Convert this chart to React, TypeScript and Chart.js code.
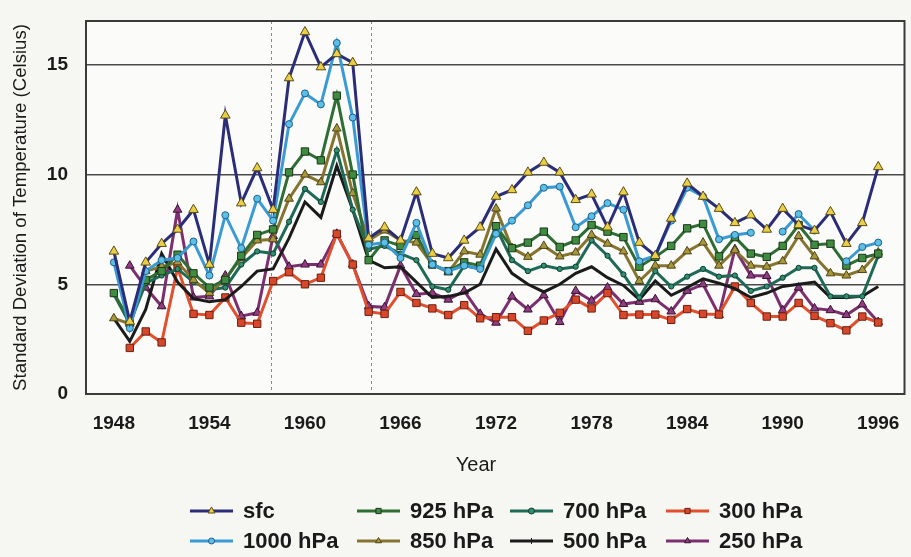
import React, { useEffect, useRef } from 'react';
import { Chart, registerables } from 'chart.js';

Chart.register(...registerables);

// ---------- DATA ----------
const years = [1948, 1949, 1950, 1951, 1952, 1953, 1954, 1955, 1956, 1957, 1958, 1959, 1960, 1961, 1962, 1963, 1964, 1965, 1966, 1967, 1968, 1969, 1970, 1971, 1972, 1973, 1974, 1975, 1976, 1977, 1978, 1979, 1980, 1981, 1982, 1983, 1984, 1985, 1986, 1987, 1988, 1989, 1990, 1991, 1992, 1993, 1994, 1995, 1996];

const sfc = [6.5, 3.3, 6.0, 6.85, 7.5, 8.4, 5.9, 12.7, 8.7, 10.3, 8.4, 14.4, 16.5, 14.9, 15.5, 15.1, 7.1, 7.6, 7.0, 9.2, 6.4, 6.2, 7.0, 7.6, 9.0, 9.3, 10.1, 10.55, 10.1, 8.85, 9.1, 7.6, 9.2, 6.9, 6.3, 8.0, 9.6, 9.0, 8.45, 7.8, 8.15, 7.5, 8.45, 7.7, 7.45, 8.3, 6.85, 7.8, 10.35];
const hPa1000 = [6.0, 3.0, 5.6, 6.1, 6.2, 6.95, 5.4, 8.15, 6.65, 8.9, 7.9, 12.3, 13.7, 13.2, 16.0, 12.6, 6.8, 6.9, 6.2, 7.8, 5.9, 5.6, 5.85, 5.7, 7.3, 7.9, 8.6, 9.4, 9.45, 7.6, 8.1, 8.7, 8.4, 6.05, 6.3, 7.9, 9.4, 9.0, 7.05, 7.25, 7.35, null, 7.4, 8.2, 7.45, null, 6.05, 6.7, 6.9];
const hPa925 = [4.6, 3.3, 5.2, 5.6, 6.35, 5.5, 4.85, 5.2, 6.3, 7.25, 7.5, 10.1, 11.05, 10.65, 13.6, 10.0, 6.1, 7.0, 6.75, 7.25, 5.9, 5.6, 6.0, 5.85, 7.65, 6.65, 6.9, 7.4, 6.7, 7.0, 7.7, 7.4, 7.15, 5.8, 6.25, 6.75, 7.55, 7.75, 6.27, 7.15, 6.4, 6.25, 6.75, 7.7, 6.8, 6.85, 5.85, 6.2, 6.4];
const hPa850 = [3.45, 3.2, 5.6, 5.8, 6.0, 5.2, 4.6, 5.25, 6.2, 7.0, 7.05, 8.9, 10.0, 9.65, 12.1, 9.15, 7.0, 7.45, 7.0, 6.9, 5.9, 5.55, 6.5, 6.35, 8.45, 6.65, 6.25, 6.75, 6.27, 6.45, 7.25, 6.85, 6.5, 5.15, 5.85, 5.85, 6.5, 6.9, 5.85, 6.55, 5.85, 5.8, 6.05, 7.2, 6.27, 5.5, 5.4, 5.65, 6.45];
const hPa700 = [4.55, 3.2, 5.05, 5.4, 5.7, 5.1, 4.75, 4.85, 5.9, 6.5, 6.4, 7.85, 9.35, 8.75, 11.1, 8.4, 6.6, 6.75, 6.4, 6.1, 4.9, 4.75, 5.85, 5.7, 7.6, 6.1, 5.6, 5.85, 5.7, 5.8, 7.0, 6.3, 5.45, 4.4, 5.6, 4.9, 5.35, 5.7, 5.35, 5.4, 4.7, 4.9, 5.3, 5.75, 5.75, 4.45, 4.45, 4.45, 6.3];
const hPa500 = [3.45, 2.4, 3.85, 6.4, 5.1, 4.35, 4.2, 4.3, 4.9, 5.6, 5.7, 7.1, 8.75, 8.05, 10.4, 8.4, 6.1, 5.75, 5.8, 5.1, 4.4, 4.45, 4.6, 5.0, 6.6, 5.5, 5.0, 4.65, 5.0, 5.5, 5.8, 5.3, 4.95, 4.3, 5.15, 4.5, 4.85, 5.25, 5.05, 4.8, 4.4, 4.6, 4.9, 5.0, 5.1, 4.4, 4.4, 4.45, 4.9];
const hPa300 = [null, 2.1, 2.85, 2.35, 5.75, 3.65, 3.6, 4.4, 3.25, 3.2, 5.15, 5.55, 5.0, 5.3, 7.3, 5.9, 3.75, 3.65, 4.65, 4.15, 3.9, 3.6, 4.05, 3.45, 3.5, 3.5, 2.88, 3.35, 3.7, 4.3, 3.9, 4.6, 3.6, 3.62, 3.62, 3.38, 3.87, 3.65, 3.62, 4.9, 4.15, 3.53, 3.53, 4.15, 3.56, 3.23, 2.9, 3.53, 3.26];
const hPa250 = [null, 5.85, 4.85, 4.0, 8.4, 4.4, 4.45, 5.4, 3.55, 3.7, 7.2, 5.8, 5.9, 5.9, 7.3, 5.9, 4.0, 3.95, 5.85, 4.55, 4.6, 4.3, 4.7, 3.65, 3.25, 4.44, 3.85, 4.5, 3.28, 4.7, 4.25, 4.85, 4.1, 4.2, 4.32, 3.76, 4.7, 5.0, 3.6, 6.6, 5.4, 5.38, 3.82, 4.85, 3.9, 3.82, 3.6, 4.08, 3.28];

const xTickYears = [1948, 1954, 1960, 1966, 1972, 1978, 1984, 1990, 1996];
const yTickValues = [0, 5, 10, 15];
const markerYears = [1957.85, 1964.15];

const xTitle = 'Year';
const yTitle = 'Standard Deviation of Temperature (Celsius)';

// ---------- STYLES ----------
const FONT = '"Liberation Sans", Arial, Helvetica, sans-serif';

type SeriesStyle = {
  label: string;
  values: (number | null)[];
  line: string;
  fill: string;
  edge: string;
  shape: 'triangle' | 'circle' | 'rect' | 'cross';
  r: number;
};

const series: SeriesStyle[] = [
  { label: 'sfc', values: sfc, line: '#2b2d78', fill: '#e9cf48', edge: '#5b4b12', shape: 'triangle', r: 5.5 },
  { label: '1000 hPa', values: hPa1000, line: '#3a9ad4', fill: '#5cc0e6', edge: '#1f5f8a', shape: 'circle', r: 3.5 },
  { label: '925 hPa', values: hPa925, line: '#2f6d34', fill: '#3f8b3f', edge: '#1a361a', shape: 'rect', r: 5.2 },
  { label: '850 hPa', values: hPa850, line: '#857430', fill: '#a5983c', edge: '#4f4216', shape: 'triangle', r: 5 },
  { label: '700 hPa', values: hPa700, line: '#1f6a57', fill: '#2f9070', edge: '#123c30', shape: 'circle', r: 2.6 },
  { label: '500 hPa', values: hPa500, line: '#1b1b1b', fill: '#1b1b1b', edge: '#1b1b1b', shape: 'cross', r: 0 },
  { label: '300 hPa', values: hPa300, line: '#e0502e', fill: '#d9472b', edge: '#6b2010', shape: 'rect', r: 5.2 },
  { label: '250 hPa', values: hPa250, line: '#7b2f6f', fill: '#8e3e80', edge: '#3a1030', shape: 'triangle', r: 5 },
];

const legendOrder = ['sfc', '925 hPa', '700 hPa', '300 hPa', '1000 hPa', '850 hPa', '500 hPa', '250 hPa'];
const legendCols = [190, 357, 510, 666];
const legendRowsY = [511, 541];

function drawMarker(ctx: CanvasRenderingContext2D, s: SeriesStyle, x: number, y: number) {
  ctx.save();
  ctx.fillStyle = s.fill;
  ctx.strokeStyle = s.edge;
  ctx.lineWidth = 1;
  ctx.beginPath();
  if (s.shape === 'triangle') {
    const r = s.r;
    ctx.moveTo(x, y - r);
    ctx.lineTo(x + r * 0.87, y + r * 0.5);
    ctx.lineTo(x - r * 0.87, y + r * 0.5);
    ctx.closePath();
    ctx.fill();
    ctx.stroke();
  } else if (s.shape === 'circle') {
    ctx.arc(x, y, s.r, 0, Math.PI * 2);
    ctx.fill();
    ctx.stroke();
  } else if (s.shape === 'rect') {
    const h = s.r * Math.SQRT1_2;
    ctx.rect(x - h, y - h, 2 * h, 2 * h);
    ctx.fill();
    ctx.stroke();
  } else {
    ctx.lineWidth = 1;
    ctx.moveTo(x, y - 3);
    ctx.lineTo(x, y + 3);
    ctx.stroke();
  }
  ctx.restore();
}

const framePlugin = {
  id: 'framePlugin',
  beforeDraw(chart: any) {
    const { ctx, chartArea: a, width, height } = chart;
    ctx.save();
    ctx.fillStyle = '#f6f6f3';
    ctx.fillRect(0, 0, width, height);
    ctx.fillStyle = '#fbfbf9';
    ctx.fillRect(a.left, a.top, a.right - a.left, a.bottom - a.top);
    ctx.restore();
  },
  beforeDatasetsDraw(chart: any) {
    const { ctx, chartArea: a, scales } = chart;
    ctx.save();
    ctx.strokeStyle = '#8a8a8a';
    ctx.lineWidth = 1;
    ctx.setLineDash([3, 3]);
    markerYears.forEach((yr) => {
      const x = Math.round(scales.x.getPixelForValue(yr)) + 0.5;
      ctx.beginPath();
      ctx.moveTo(x, a.top);
      ctx.lineTo(x, a.bottom);
      ctx.stroke();
    });
    ctx.restore();
  },
  afterDraw(chart: any) {
    const { ctx, chartArea: a } = chart;
    ctx.save();
    ctx.strokeStyle = '#3a3a3a';
    ctx.lineWidth = 2;
    ctx.strokeRect(a.left, a.top, a.right - a.left, a.bottom - a.top);
    ctx.restore();

    // x-axis title (sits left of the plot centre in the original)
    ctx.save();
    ctx.font = `20px ${FONT}`;
    ctx.fillStyle = '#1a1a1a';
    ctx.textAlign = 'center';
    ctx.textBaseline = 'middle';
    ctx.fillText(xTitle, 476, 465);
    ctx.restore();

    // legend
    ctx.save();
    ctx.font = `bold 22px ${FONT}`;
    ctx.textBaseline = 'middle';
    ctx.textAlign = 'left';
    legendOrder.forEach((lbl, k) => {
      const s = series.find((q) => q.label === lbl)!;
      const col = k % 4;
      const row = Math.floor(k / 4);
      const x0 = legendCols[col];
      const y = legendRowsY[row];
      ctx.strokeStyle = s.line;
      ctx.lineWidth = 3;
      ctx.beginPath();
      ctx.moveTo(x0, y);
      ctx.lineTo(x0 + 43, y);
      ctx.stroke();
      drawMarker(ctx, { ...s, r: s.r > 0 ? Math.max(3, s.r - 1.5) : 0 }, x0 + 21.5, y);
      ctx.fillStyle = '#1a1a1a';
      ctx.fillText(lbl, x0 + 53, y + 1);
    });
    ctx.restore();
  },
};

export default function App() {
  const canvasRef = useRef<HTMLCanvasElement | null>(null);

  useEffect(() => {
    const canvas = canvasRef.current;
    if (!canvas) return;

    const datasets = series.map((s) => ({
      label: s.label,
      data: years.map((yr, i) => ({ x: yr, y: s.values[i] })),
      borderColor: s.line,
      backgroundColor: s.fill,
      pointBorderColor: s.edge,
      pointBackgroundColor: s.fill,
      pointBorderWidth: 1,
      pointStyle: s.shape === 'cross' ? 'circle' : s.shape,
      pointRadius: s.r,
      pointHoverRadius: s.r,
      borderWidth: 3,
      tension: 0,
      spanGaps: false,
    }));

    const chart = new Chart(canvas, {
      type: 'line',
      data: { datasets } as any,
      plugins: [framePlugin],
      options: {
        responsive: false,
        animation: false,
        layout: { padding: { top: 21, right: 2, bottom: 80, left: 0 } },
        plugins: {
          legend: { display: false },
          tooltip: { enabled: false },
          title: { display: false },
        },
        scales: {
          x: {
            type: 'linear',
            min: 1946.25,
            max: 1997.65,
            afterBuildTicks: (scale: any) => {
              scale.ticks = xTickYears.map((v) => ({ value: v }));
            },
            afterFit: (scale: any) => {
              scale.height = 83;
              scale.paddingLeft = 0;
              scale.paddingRight = 0;
            },
            grid: { display: false, drawTicks: false },
            border: { display: false },
            ticks: {
              padding: 18,
              autoSkip: false,
              maxRotation: 0,
              color: '#1a1a1a',
              font: { family: FONT, size: 19, weight: 'bold' },
              callback: (v: any) => String(v),
            },
            title: { display: false, text: xTitle },
          },
          y: {
            type: 'linear',
            min: 0,
            max: 17,
            afterBuildTicks: (scale: any) => {
              scale.ticks = yTickValues.map((v) => ({ value: v }));
            },
            afterFit: (scale: any) => {
              scale.width = 86;
              scale.paddingTop = 0;
              scale.paddingBottom = 0;
            },
            grid: {
              drawTicks: false,
              color: (c: any) => (c.tick && c.tick.value === 0 ? 'rgba(0,0,0,0)' : '#4a4a4a'),
              lineWidth: 1.5,
            },
            border: { display: false },
            ticks: {
              padding: 18,
              color: '#1a1a1a',
              font: { family: FONT, size: 19, weight: 'bold' },
              callback: (v: any) => String(v),
            },
            title: {
              display: true,
              text: yTitle,
              color: '#1a1a1a',
              font: { family: FONT, size: 18.6 },
              padding: { top: 10, bottom: 0 },
            },
          },
        },
      } as any,
    });

    return () => chart.destroy();
  }, []);

  return (
    <div style={{ position: 'absolute', left: 0, top: 0, width: 911, height: 557, background: '#f6f6f3' }}>
      <canvas ref={canvasRef} width={911} height={557} style={{ display: 'block' }} />
    </div>
  );
}
